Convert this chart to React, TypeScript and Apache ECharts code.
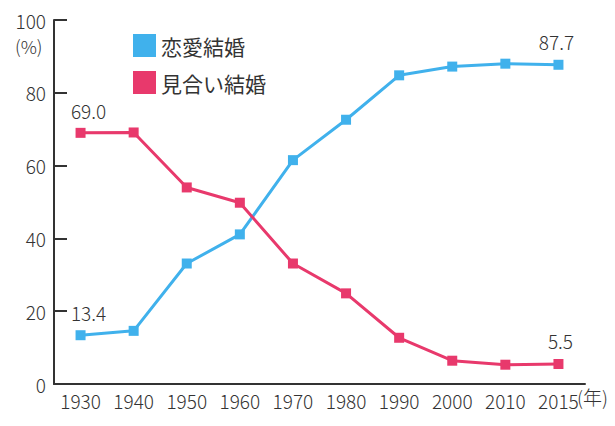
import { useEffect, useRef } from 'react'
import * as echarts from 'echarts'

// 恋愛結婚・見合い結婚の構成比の推移 (%)
const YEARS = ['1930', '1940', '1950', '1960', '1970', '1980', '1990', '2000', '2010', '2015']
const LOVE = [13.4, 14.6, 33.1, 41.1, 61.5, 72.6, 84.8, 87.2, 88.0, 87.7]
const ARRANGED = [69.0, 69.1, 54.0, 49.8, 33.1, 24.9, 12.7, 6.4, 5.3, 5.5]
const Y_TICKS = [0, 20, 40, 60, 80, 100]

// 値ラベルを出す点
const LABELED = [0, YEARS.length - 1]

const BLUE = '#40b1ec'
const PINK = '#e8396c'
const INK = '#333333'
const FONT = '"Noto Sans CJK JP", "Noto Sans", sans-serif'
const LIGHT = 300

function withLabels(values: number[], offsets: number[][]) {
  return values.map((v, i) => {
    const k = LABELED.indexOf(i)
    if (k < 0) return v
    return {
      value: v,
      label: {
        show: true,
        position: 'top',
        offset: offsets[k],
        formatter: v.toFixed(1),
        color: INK,
        fontSize: 19,
        fontWeight: LIGHT,
        fontFamily: FONT,
      },
    }
  })
}

export default function App() {
  const ref = useRef<HTMLDivElement>(null)

  useEffect(() => {
    document.body.style.margin = '0'
    if (!ref.current) return
    const chart = echarts.init(ref.current, undefined, { renderer: 'svg' })

    const lineSeries = (name: string, color: string, data: any[]) => ({
      name,
      type: 'line' as const,
      data,
      symbol: 'rect',
      symbolSize: 10,
      lineStyle: { color, width: 3 },
      itemStyle: { color },
      label: { show: false },
      z: 3,
    })

    chart.setOption({
      animation: false,
      backgroundColor: '#ffffff',
      textStyle: { fontFamily: FONT },
      grid: { left: 54, right: 30, top: 20, bottom: 42, containLabel: false },
      legend: {
        orient: 'vertical',
        left: 128,
        top: 29,
        itemWidth: 23,
        itemHeight: 23,
        itemGap: 14,
        icon: 'rect',
        selectedMode: false,
        textStyle: { color: INK, fontSize: 21, fontFamily: FONT },
        data: ['恋愛結婚', '見合い結婚'],
      },
      xAxis: {
        type: 'category',
        data: YEARS,
        boundaryGap: true,
        axisLine: { lineStyle: { color: INK, width: 2 } },
        axisTick: { inside: true, length: 8, lineStyle: { color: INK, width: 2 } },
        axisLabel: { color: INK, fontSize: 19, fontWeight: LIGHT, fontFamily: FONT, margin: 7 },
      },
      yAxis: {
        type: 'value',
        min: Y_TICKS[0],
        max: Y_TICKS[Y_TICKS.length - 1],
        interval: Y_TICKS[1] - Y_TICKS[0],
        axisLine: { show: true, lineStyle: { color: INK, width: 2 } },
        axisTick: { show: true, inside: true, length: 13, lineStyle: { color: INK, width: 2 } },
        axisLabel: { color: INK, fontSize: 19, fontWeight: LIGHT, fontFamily: FONT, margin: 8 },
        splitLine: { show: false },
      },
      graphic: [
        {
          type: 'text',
          left: 15,
          top: 37,
          style: { text: '(%)', fill: INK, fontSize: 18, fontWeight: LIGHT, fontFamily: FONT },
        },
        {
          type: 'text',
          left: 577,
          top: 387,
          style: { text: '(年)', fill: INK, fontSize: 19, fontWeight: LIGHT, fontFamily: FONT },
        },
      ],
      series: [
        lineSeries('恋愛結婚', BLUE, withLabels(LOVE, [[8, -3], [-2, -4]])),
        lineSeries('見合い結婚', PINK, withLabels(ARRANGED, [[8, -3], [2, -4]])),
      ],
    })

    return () => chart.dispose()
  }, [])

  return <div ref={ref} style={{ width: 615, height: 426 }} />
}
